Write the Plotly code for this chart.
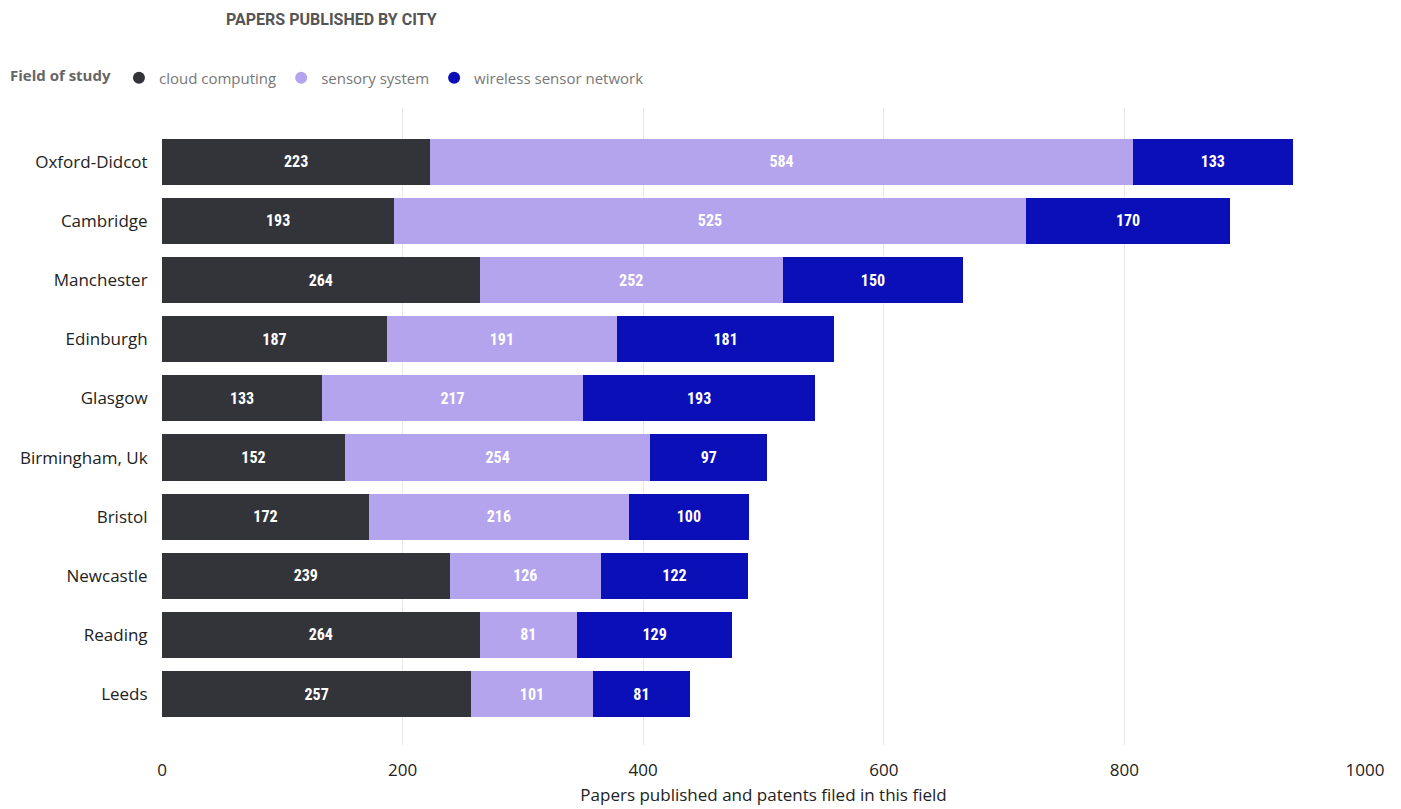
import plotly.graph_objects as go

cities = ["Oxford-Didcot", "Cambridge", "Manchester", "Edinburgh", "Glasgow",
          "Birmingham, Uk", "Bristol", "Newcastle", "Reading", "Leeds"]
cloud = [223, 193, 264, 187, 133, 152, 172, 239, 264, 257]
sensory = [584, 525, 252, 191, 217, 254, 216, 126, 81, 101]
wireless = [133, 170, 150, 181, 193, 97, 100, 122, 129, 81]

series = [
    ("cloud computing", cloud, "#333439"),
    ("sensory system", sensory, "#b4a4ed"),
    ("wireless sensor network", wireless, "#0a0fb8"),
]

fig = go.Figure()
for name, vals, color in series:
    fig.add_trace(go.Bar(
        y=cities, x=vals, orientation="h", name=name,
        marker=dict(color=color, line=dict(width=0)),
        text=[str(v) for v in vals], textposition="inside",
        insidetextanchor="middle",
        textfont=dict(family="Roboto Condensed, Roboto, sans-serif", size=16,
                      color="white", weight="bold"),
        width=0.78, showlegend=False,
    ))
    fig.add_trace(go.Scatter(
        x=[None], y=[None], mode="markers", name=name,
        marker=dict(symbol="circle", size=15, color=color),
    ))

fig.update_layout(
    barmode="stack",
    width=1401, height=809,
    paper_bgcolor="white", plot_bgcolor="white",
    margin=dict(l=154, r=44, t=100, b=72, autoexpand=False),
    title=dict(text="<b>PAPERS PUBLISHED BY CITY</b>", x=218 / 1401, xanchor="left",
               xref="container",
               y=1 - 11 / 809, yanchor="middle",
               font=dict(family="Roboto, sans-serif", size=16, color="#555555")),
    legend=dict(orientation="h", x=0.0, xanchor="left", xref="container",
                y=1 - 70 / 809, yref="container", yanchor="middle",
                traceorder="normal",
                title=dict(text="<b>Field of study</b>", font=dict(color="#666666", size=15)),
                font=dict(family="Open Sans, sans-serif", size=15, color="#777777"),
                itemsizing="constant", itemwidth=30, tracegroupgap=0),
    font=dict(family="Open Sans, sans-serif"),
    xaxis=dict(range=[0, 1000], tickvals=[0, 200, 400, 600, 800, 1000],
               showgrid=True, gridcolor="#e8e8e8", gridwidth=1, zeroline=False,
               tickfont=dict(size=17, color="#222222"),
               title=dict(text="Papers published and patents filed in this field",
                          font=dict(size=17, color="#222222"), standoff=8),
               ticks="outside", ticklen=10, tickcolor="white",
               fixedrange=True, automargin=False),
    yaxis=dict(categoryorder="array", categoryarray=cities,
               range=[9.86, -0.91], tickfont=dict(size=17, color="#222222"),
               ticks="outside", ticklen=10, tickcolor="white", showgrid=False,
               automargin=False),
)

fig.write_html("out.html")
